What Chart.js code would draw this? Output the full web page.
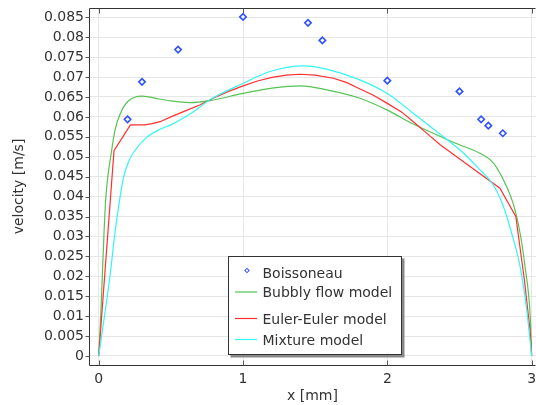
<!DOCTYPE html>
<html><head><meta charset="utf-8">
<script src="https://cdn.jsdelivr.net/npm/chart.js@4/dist/chart.umd.min.js"></script>
<style>html,body{margin:0;padding:0;background:#fff}#wrap{width:536px;height:405px;position:relative}</style>
</head><body><div id="wrap"><canvas id="c" width="536" height="405"></canvas></div>
<script>
// ---- data ----
const boisX = [0.2, 0.3, 0.55, 1.0, 1.45, 1.55, 2.0, 2.5, 2.65, 2.7, 2.8];
const boisY = [0.0594, 0.0688, 0.0769, 0.0851, 0.0836, 0.0792, 0.0691, 0.0664, 0.0594, 0.0578, 0.0559];

const bubblyX = [0, 0.014, 0.025, 0.037, 0.048, 0.065, 0.083, 0.113, 0.152, 0.2, 0.3, 0.42, 0.5, 0.63, 0.77, 1.0, 1.2, 1.4, 1.58, 1.8, 2.0, 2.18, 2.41, 2.5, 2.64, 2.735, 2.816, 2.878, 2.92, 2.954, 2.99, 3.0];
const bubblyY = [0, 0.0099, 0.02, 0.031, 0.039, 0.0455, 0.05, 0.0567, 0.061, 0.0638, 0.0652, 0.0645, 0.064, 0.0636, 0.0641, 0.0659, 0.0672, 0.0678, 0.0668, 0.0648, 0.0617, 0.0582, 0.0544, 0.053, 0.0509, 0.0484, 0.0433, 0.0375, 0.0308, 0.0224, 0.0099, 0];

const eulerX = [0, 0.106, 0.22, 0.32, 0.37, 0.425, 0.5, 0.6, 0.7, 0.8, 0.9, 1.0, 1.1, 1.2, 1.3, 1.395, 1.5, 1.626, 1.72, 1.8, 1.9, 2.0, 2.1, 2.18, 2.27, 2.366, 2.504, 2.78, 2.89, 2.95, 2.99, 3.0];
const eulerY = [0, 0.0515, 0.058, 0.058, 0.0583, 0.0588, 0.06, 0.0615, 0.063, 0.0648, 0.0664, 0.0678, 0.069, 0.0699, 0.0705, 0.0707, 0.0705, 0.0697, 0.0686, 0.0672, 0.0655, 0.0634, 0.0612, 0.0588, 0.056, 0.053, 0.0494, 0.0421, 0.035, 0.019, 0.006, 0];

const mixtureX = [0, 0.04, 0.078, 0.113, 0.14, 0.17, 0.21, 0.25, 0.33, 0.425, 0.5, 0.656, 0.77, 1.0, 1.187, 1.418, 1.718, 2.0, 2.18, 2.41, 2.504, 2.642, 2.735, 2.804, 2.86, 2.92, 2.966, 3.0];
const mixtureY = [0, 0.01, 0.02, 0.031, 0.038, 0.0445, 0.049, 0.0515, 0.0548, 0.0569, 0.058, 0.0613, 0.0643, 0.0684, 0.0714, 0.0728, 0.0705, 0.0659, 0.0609, 0.0544, 0.0517, 0.0467, 0.0429, 0.0375, 0.031, 0.0224, 0.0115, 0];

const seriesNames = ['Boissoneau', 'Bubbly flow model', 'Euler-Euler model', 'Mixture model'];
const xTickValues = [0, 1, 2, 3];
const xTickLabels = ['0', '1', '2', '3'];
const yTickValues = [0, 0.005, 0.01, 0.015, 0.02, 0.025, 0.03, 0.035, 0.04, 0.045, 0.05, 0.055, 0.06, 0.065, 0.07, 0.075, 0.08, 0.085];
const yTickLabels = ['0', '0.005', '0.01', '0.015', '0.02', '0.025', '0.03', '0.035', '0.04', '0.045', '0.05', '0.055', '0.06', '0.065', '0.07', '0.075', '0.08', '0.085'];
const xTitle = 'x [mm]';
const yTitle = 'velocity [m/s]';

const pts = (xs, ys) => xs.map((x, i) => ({x, y: ys[i]}));
const FONT = 'DejaVu Sans';
const TXT = '#333';

const framePlugin = {
  id: 'frame',
  afterDatasetsDraw(chart) {
    const {ctx, chartArea: a, scales} = chart;
    ctx.save();
    ctx.strokeStyle = '#333';
    ctx.lineWidth = 1;
    ctx.beginPath();
    const L = Math.round(a.left) + 0.5, T = Math.round(a.top) + 0.5, B = Math.round(a.bottom) + 0.5, R = Math.round(a.right) - 0.5;
    ctx.moveTo(L, B); ctx.lineTo(L, T); ctx.lineTo(R, T);
    ctx.moveTo(L, B); ctx.lineTo(R, B);
    ctx.stroke();
    ctx.strokeStyle = '#555';
    ctx.beginPath();
    yTickValues.forEach(v => {
      const y = Math.round(scales.y.getPixelForValue(v)) + 0.5;
      ctx.moveTo(L - 4, y); ctx.lineTo(L, y);
    });
    xTickValues.forEach(v => {
      const x = Math.round(scales.x.getPixelForValue(v)) + 0.5;
      ctx.moveTo(x, B); ctx.lineTo(x, B - 5);
      ctx.moveTo(x, T); ctx.lineTo(x, T + 5);
    });
    ctx.stroke();
    ctx.restore();
  }
};

const legendPlugin = {
  id: 'boxLegend',
  afterDraw(chart) {
    const ctx = chart.ctx;
    const L = 228.5, T = 256.5, W = 173, H = 98;
    ctx.save();
    ctx.fillStyle = '#888';
    ctx.fillRect(L + 2, T + 2, W + 1, H + 1);
    ctx.fillStyle = '#fff';
    ctx.fillRect(L, T, W, H);
    ctx.strokeStyle = '#333';
    ctx.lineWidth = 1;
    ctx.strokeRect(L, T, W, H);
    const rows = [274, 293.5, 320, 341];
    ctx.font = '14px "' + FONT + '"';
    ctx.textBaseline = 'middle';
    ctx.textAlign = 'left';
    chart.data.datasets.forEach((ds, i) => {
      const y = rows[i];
      if (i === 0) {
        ctx.save();
        ctx.translate(247, y - 3.5);
        ctx.rotate(Math.PI / 4);
        ctx.strokeStyle = ds.borderColor;
        ctx.lineWidth = 1;
        ctx.strokeRect(-1.5, -1.5, 3, 3);
        ctx.restore();
      } else {
        ctx.strokeStyle = ds.borderColor;
        ctx.lineWidth = 1.2;
        ctx.beginPath();
        ctx.moveTo(235, y - 1.5); ctx.lineTo(257, y - 1.5);
        ctx.stroke();
      }
      ctx.fillStyle = TXT;
      ctx.fillText(ds.label, 262.5, y);
    });
    ctx.restore();
  }
};

new Chart(document.getElementById('c'), {
  type: 'line',
  data: {
    datasets: [
      { label: seriesNames[0], data: pts(boisX, boisY), showLine: false, order: 0,
        pointStyle: 'rectRot', pointRadius: 3.2, pointBorderWidth: 1.6,
        borderColor: '#2f52ff', backgroundColor: '#ffffff', pointBackgroundColor: '#ffffff' },
      { label: seriesNames[1], data: pts(bubblyX, bubblyY), order: 3, borderColor: '#55c455',
        borderWidth: 1.2, pointRadius: 0, cubicInterpolationMode: 'monotone', fill: false },
      { label: seriesNames[2], data: pts(eulerX, eulerY), order: 2, borderColor: '#ff3030',
        borderWidth: 1.2, pointRadius: 0, tension: 0, fill: false },
      { label: seriesNames[3], data: pts(mixtureX, mixtureY), order: 1, borderColor: '#33f5f5',
        borderWidth: 1.2, pointRadius: 0, cubicInterpolationMode: 'monotone', fill: false }
    ]
  },
  options: {
    responsive: false,
    animation: false,
    devicePixelRatio: 1,
    layout: { autoPadding: false, padding: { top: 8, right: 0, left: 0, bottom: 0 } },
    plugins: { legend: { display: false }, tooltip: { enabled: false } },
    scales: {
      x: {
        type: 'linear', min: -0.0672, max: 3.03,
        afterBuildTicks: s => { s.ticks = xTickValues.map(v => ({value: v})); },
        afterFit: s => { s.height = 40; s.paddingLeft = 0; s.paddingRight = 0; },
        grid: { color: '#e6e6e6', drawTicks: false },
        border: { display: false },
        ticks: { padding: 6, color: TXT, font: { family: FONT, size: 14 }, maxRotation: 0,
          callback: (v) => xTickLabels[xTickValues.indexOf(v)] },
        title: { display: true, text: xTitle, color: TXT, font: { family: FONT, size: 14 }, padding: { top: 0, bottom: 0 } }
      },
      y: {
        type: 'linear', min: -0.00226, max: 0.08733,
        afterBuildTicks: s => { s.ticks = yTickValues.map(v => ({value: v})); },
        afterFit: s => { s.width = 89; s.paddingTop = 0; s.paddingBottom = 0; },
        grid: { color: '#e6e6e6', drawTicks: false },
        border: { display: false },
        ticks: { padding: 5, color: TXT, font: { family: FONT, size: 14 },
          callback: (v) => yTickLabels[yTickValues.findIndex(t => Math.abs(t - v) < 1e-9)] },
        title: { display: true, text: yTitle, color: TXT, font: { family: FONT, size: 14 }, padding: { top: 11, bottom: 0 } }
      }
    }
  },
  plugins: [framePlugin, legendPlugin]
});
</script>
</body></html>
